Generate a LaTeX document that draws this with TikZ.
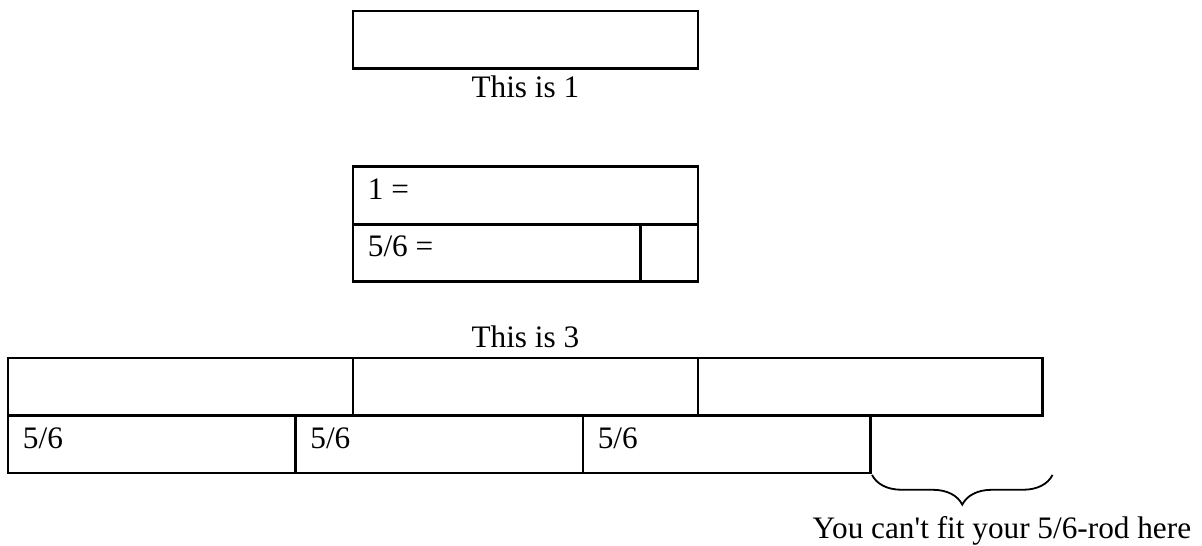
\documentclass[tikz,border=0pt]{standalone}
\usepackage{fontspec}
\setmainfont{Liberation Serif}
\usetikzlibrary{positioning,decorations.pathreplacing}
\tikzset{
  rod/.style      ={rectangle, draw, line width=1pt, outer sep=0pt, inner sep=0pt,
                    minimum height=22.25pt, anchor=north west},
  wholerod/.style ={rod, minimum width=133.5pt},
  fiverod/.style  ={rod, minimum width=111.25pt},
  sixthrod/.style ={rod, minimum width=22.25pt},
  rodtext/.style  ={font=\fontsize{12.1pt}{14pt}\selectfont},
  rodlabel/.style ={rodtext, anchor=north west, inner xsep=5.6pt, inner ysep=4.4pt},
  caption/.style  ={rodtext, inner sep=0pt},
  gapbrace/.style ={decorate, decoration={brace, mirror, amplitude=11.5pt}, line width=0.7pt},
}
\begin{document}
\begin{tikzpicture}[x=22.25pt, y=22.25pt]
  \useasboundingbox (-0.139,0.191) rectangle (20.77,-9.30);

  % ---- one whole rod ------------------------------------------------------
  \node[wholerod] (one) at (6,0) {};
  \node[caption, below=2.6pt of one] (onecap) {This is 1};

  % ---- the whole rod against the 5/6-rod ----------------------------------
  \node[wholerod] (cmpone) at (6,-2.71) {};
  \node[rodlabel] (cmponetxt) at (cmpone.north west) {1 =};
  \node[fiverod] (cmpfive) at (cmpone.south west) {};
  \node[sixthrod] (cmpsixth) at (cmpfive.north east) {};
  \node[rodlabel] (cmpfivetxt) at (cmpfive.north west) {5/6 =};

  % ---- three whole rods and three 5/6-rods --------------------------------
  \foreach \i in {0,1,2} {
    \node[wholerod] (three\i) at (6*\i,-6.035) {};
  }
  \node[caption, above=3.9pt of three1] (threecap) {This is 3};
  \foreach \i in {0,1,2} {
    \node[fiverod] (five\i) at (5*\i,-7.035) {};
    \node[rodlabel] (fivetxt\i) at (five\i.north west) {5/6};
  }

  % ---- the gap that is left -----------------------------------------------
  \coordinate (gapL) at (15.03,-8.07);
  \coordinate (gapR) at (18.17,-8.07);
  \draw[gapbrace] (gapL) -- (gapR);
  \node[caption, anchor=base] (nofit) at (17.29,-9.18) {You can\textquotesingle t fit your 5/6-rod here};
\end{tikzpicture}
\end{document}
